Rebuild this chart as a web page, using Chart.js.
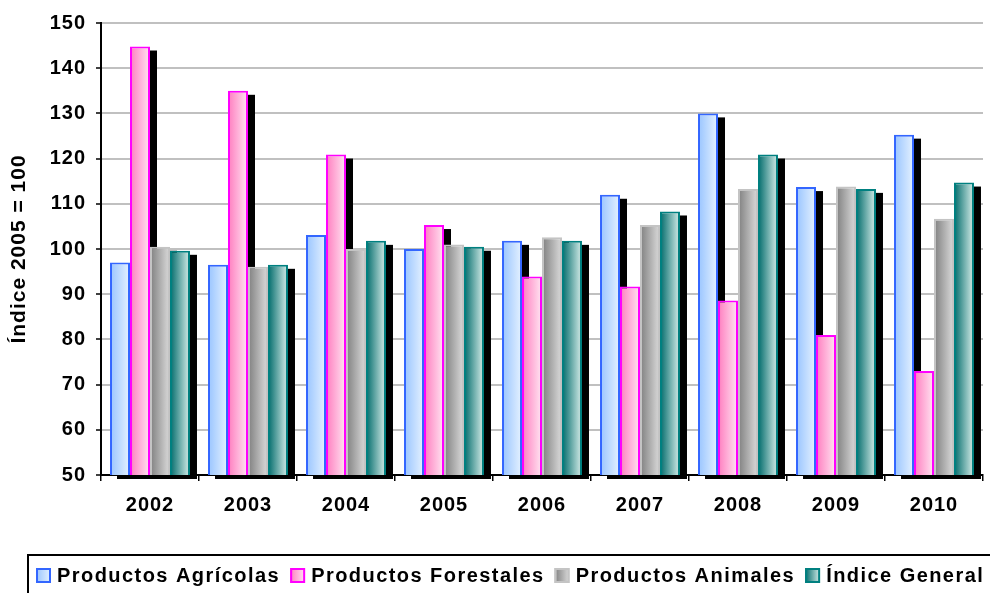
<!DOCTYPE html>
<html>
<head>
<meta charset="utf-8">
<script src="https://cdn.jsdelivr.net/npm/chart.js@4.4.1/dist/chart.umd.min.js"></script>
<style>
  html, body { margin: 0; padding: 0; background: #fff; }
  #c { display: block; }
</style>
</head>
<body>
<canvas id="c" width="990" height="593"></canvas>
<script>
const categories = ['2002', '2003', '2004', '2005', '2006', '2007', '2008', '2009', '2010'];
const seriesLabels = ['Productos Agrícolas', 'Productos Forestales', 'Productos Animales', 'Índice General'];
const agricolas  = [97.0, 96.5, 103.1, 100.0, 101.8, 112.0, 130.0, 113.7, 125.3];
const forestales = [144.8, 135.0, 120.9, 105.3, 93.9, 91.7, 88.6, 81.0, 73.0];
const animales   = [100.5, 96.1, 100.0, 101.0, 102.6, 105.3, 113.3, 113.8, 106.7];
const general    = [99.6, 96.5, 101.8, 100.5, 101.8, 108.3, 120.9, 113.3, 114.7];
const yTicks = [50, 60, 70, 80, 90, 100, 110, 120, 130, 140, 150];
const yTitle = 'Índice 2005 = 100';

const styles = [
  { dark: '#98c4ff', light: '#e6f2ff', border: '#3366ff' },
  { dark: '#ff7cbf', light: '#ffe6f2', border: '#ff00ff' },
  { dark: '#7f7f7f', light: '#dcdcdc', border: '#c4c4c4' },
  { dark: '#006b6b', light: '#d8eeea', border: '#008080' }
];

const CAT_PCT = 0.816;
const FONT = 'Liberation Sans, Arial, Helvetica, sans-serif';

function grad(ctx2d, x0, x1, st) {
  const g = ctx2d.createLinearGradient(x0, 0, x1, 0);
  g.addColorStop(0, st.dark);
  g.addColorStop(1, st.light);
  return g;
}

function barFill(context) {
  const chart = context.chart;
  const st = styles[context.datasetIndex];
  const xs = chart.scales && chart.scales.x;
  if (!xs || !isFinite(xs.width) || xs.width <= 0) return st.light;
  const n = chart.data.datasets.length;
  const catW = xs.width / categories.length;
  const bw = catW * CAT_PCT / n;
  const center = xs.getPixelForValue(context.dataIndex);
  const left = center - (n / 2) * bw + context.datasetIndex * bw;
  return grad(chart.ctx, left, left + bw, st);
}

const spacingPlugin = {
  id: 'spacing',
  beforeLayout(chart) { chart.ctx.letterSpacing = '1px'; },
  beforeDraw(chart) { chart.ctx.letterSpacing = '1px'; }
};

const shadowPlugin = {
  id: 'shadow',
  beforeDatasetsDraw(chart) {
    const ctx = chart.ctx;
    const bottom = chart.chartArea.bottom;
    ctx.save();
    ctx.fillStyle = '#000';
    chart.data.datasets.forEach((ds, di) => {
      const meta = chart.getDatasetMeta(di);
      meta.data.forEach(el => {
        const p = el.getProps(['x', 'y', 'base', 'width'], true);
        const b = Math.min(p.base, bottom);
        ctx.fillRect(p.x - p.width / 2 + 7, p.y + 4, p.width, b - p.y);
      });
    });
    ctx.restore();
  }
};

const legendPlugin = {
  id: 'boxLegend',
  afterDraw(chart) {
    const ctx = chart.ctx;
    ctx.save();
    ctx.lineWidth = 2;
    ctx.strokeStyle = '#000';
    ctx.strokeRect(28, 555, 1000, 100);
    ctx.font = 'bold 20px ' + FONT;
    ctx.letterSpacing = '1.45px';
    ctx.textBaseline = 'middle';
    ctx.textAlign = 'left';
    let x = 36;
    const boxY = 568, box = 15, midY = 576;
    seriesLabels.forEach((lab, i) => {
      const st = styles[i];
      ctx.fillStyle = grad(ctx, x, x + box, st);
      ctx.fillRect(x, boxY, box, box);
      ctx.lineWidth = 2;
      ctx.strokeStyle = st.border;
      ctx.strokeRect(x + 1, boxY + 1, box - 2, box - 2);
      ctx.fillStyle = '#000';
      const tx = x + box + 6;
      ctx.fillText(lab, tx, midY);
      const w = ctx.measureText(lab).width;
      x = tx + w + 10;
    });
    ctx.restore();
  }
};

const datasets = [agricolas, forestales, animales, general].map((vals, i) => ({
  label: seriesLabels[i],
  data: vals,
  backgroundColor: barFill,
  borderColor: styles[i].border,
  borderWidth: 2,
  borderSkipped: 'bottom',
  categoryPercentage: CAT_PCT,
  barPercentage: 1.0
}));

new Chart(document.getElementById('c'), {
  type: 'bar',
  data: { labels: categories, datasets },
  plugins: [spacingPlugin, shadowPlugin, legendPlugin],
  options: {
    responsive: false,
    animation: false,
    devicePixelRatio: 1,
    layout: { padding: { left: 0, top: 23, right: 7, bottom: 68 } },
    plugins: {
      legend: { display: false },
      tooltip: { enabled: false }
    },
    scales: {
      x: {
        grid: {
          display: true,
          offset: true,
          drawOnChartArea: false,
          drawTicks: true,
          tickLength: 6,
          color: '#000',
          lineWidth: 1.5
        },
        border: { display: true, color: '#000', width: 2 },
        ticks: {
          color: '#000',
          font: { family: FONT, size: 20, weight: 'bold' },
          padding: 12,
          maxRotation: 0
        },
        afterFit(scale) { scale.height = 50; }
      },
      y: {
        min: 50,
        max: 150,
        afterBuildTicks(scale) { scale.ticks = yTicks.map(v => ({ value: v })); },
        grid: {
          color: '#c0c0c0',
          lineWidth: 2,
          tickLength: 5,
          tickColor: '#000',
          tickWidth: 1.5
        },
        border: { display: true, color: '#000', width: 2 },
        ticks: {
          color: '#000',
          font: { family: FONT, size: 20, weight: 'bold' },
          padding: 10
        },
        title: {
          display: true,
          text: yTitle,
          color: '#000',
          font: { family: FONT, size: 21, weight: 'bold' },
          padding: { top: 7, bottom: 0 }
        },
        afterFit(scale) { scale.width = 101; }
      }
    }
  }
});
</script>
</body>
</html>
